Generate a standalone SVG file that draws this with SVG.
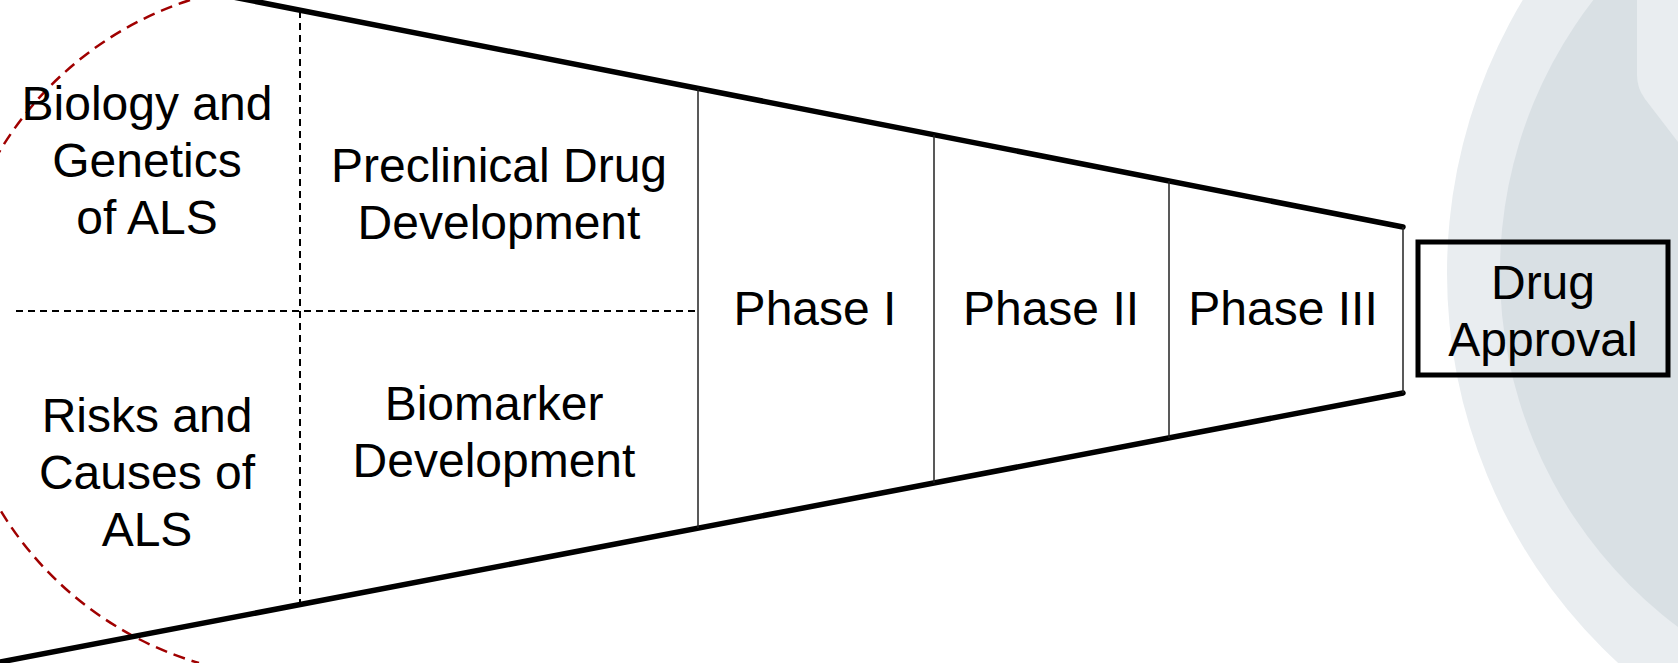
<svg xmlns="http://www.w3.org/2000/svg" width="1678" height="663" viewBox="0 0 1678 663">
  <style>
    .lbl { font-family: "Liberation Sans", Arial, sans-serif; font-size: 48px; fill: #000; text-anchor: middle; }
    .edge { stroke: #000; stroke-width: 5.5; fill: none; stroke-linecap: round; }
    .div { stroke: #222; stroke-width: 1.5; fill: none; }
    .dash { stroke: #000; stroke-width: 2; fill: none; stroke-dasharray: 7 5; }
    .red { stroke: #A00000; stroke-width: 2.5; fill: none; stroke-dasharray: 12 7; }
  </style>
  <rect width="1678" height="663" fill="#FFFFFF"/>
  <g id="background">
    <circle cx="1977" cy="273" r="530" fill="#E9EDF0"/>
    <circle cx="1943" cy="272" r="443" fill="#D9E0E4"/>
    <path d="M1637,0 V75 Q1637,88 1645,99 L1678,142 V0 Z" fill="#E9EDF0"/>
  </g>
  <g id="connectors">
    <path class="red" d="M190,0 A347,347 0 0 0 199,663"/>
    <line class="edge" x1="200" y1="-9.5" x2="1403" y2="227"/>
    <line class="edge" x1="-5" y1="663" x2="1403" y2="393"/>
    <line class="div" x1="1403" y1="227" x2="1403" y2="393"/>
    <line class="div" x1="698" y1="89" x2="698" y2="528"/>
    <line class="div" x1="934" y1="135" x2="934" y2="483"/>
    <line class="div" x1="1169" y1="181" x2="1169" y2="438"/>
    <line class="dash" x1="300" y1="11" x2="300" y2="603"/>
    <line class="dash" x1="16" y1="311" x2="698" y2="311"/>
  </g>
  <g id="biology">
    <text class="lbl" x="147" y="120">Biology and</text>
    <text class="lbl" x="147" y="177">Genetics</text>
    <text class="lbl" x="147" y="234">of ALS</text>
  </g>
  <g id="risks">
    <text class="lbl" x="147" y="432">Risks and</text>
    <text class="lbl" x="147" y="489">Causes of</text>
    <text class="lbl" x="147" y="546">ALS</text>
  </g>
  <g id="preclinical">
    <text class="lbl" x="499" y="182">Preclinical Drug</text>
    <text class="lbl" x="499" y="239">Development</text>
  </g>
  <g id="biomarker">
    <text class="lbl" x="494" y="420">Biomarker</text>
    <text class="lbl" x="494" y="477">Development</text>
  </g>
  <g id="phase1">
    <text class="lbl" x="815" y="325">Phase I</text>
  </g>
  <g id="phase2">
    <text class="lbl" x="1051" y="325">Phase II</text>
  </g>
  <g id="phase3">
    <text class="lbl" x="1283" y="325">Phase III</text>
  </g>
  <g id="approval">
    <rect x="1418" y="242" width="250" height="133" fill="none" stroke="#000" stroke-width="5"/>
    <text class="lbl" x="1543" y="299">Drug</text>
    <text class="lbl" x="1543" y="356">Approval</text>
  </g>
</svg>
